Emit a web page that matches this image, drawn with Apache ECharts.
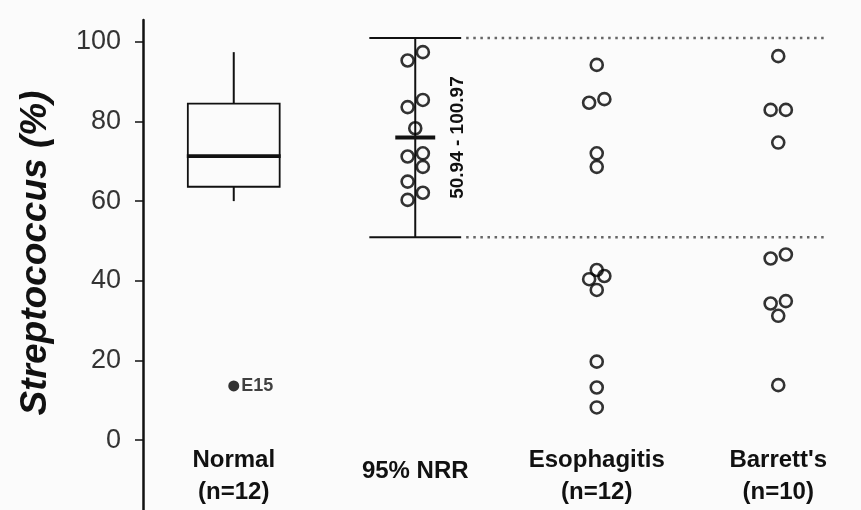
<!DOCTYPE html>
<html>
<head>
<meta charset="utf-8">
<script src="https://cdn.jsdelivr.net/npm/echarts@6/dist/echarts.min.js"></script>
<style>
  html, body { margin: 0; padding: 0; background: #fbfbfb; }
  #chart { width: 861px; height: 510px; }
</style>
</head>
<body>
<div id="chart"></div>
<script>
// Groups along the horizontal axis
const groups = ['Normal\n(n=12)', '95% NRR', 'Esophagitis\n(n=12)', "Barrett's\n(n=10)"];
const yTicks = [0, 20, 40, 60, 80, 100];

// Normal group: [lower whisker, Q1, median, Q3, upper whisker]
const normalBox = [60.0, 63.6, 71.3, 84.5, 97.4];
const normalOutlier = [13.6];
const outlierNames = ['E15'];

// 95% normal reference range and the normal values it was built from
const nrrLimits = [50.94, 100.97];
const nrrValues = [97.4, 95.3, 85.4, 83.6, 78.3, 72.0, 71.2, 68.6, 64.9, 62.1, 60.3];
const nrrSide   = [1, -1, 1, -1, 0, 1, -1, 1, -1, 1, -1];

const esophagitisValues = [94.2, 85.6, 84.7, 72.0, 68.6, 42.7, 41.2, 40.4, 37.7, 19.7, 13.2, 8.2];
const esophagitisSide   = [0, 1, -1, 0, 0, 0, 1, -1, 0, 0, 0, 0];

const barrettValues = [96.4, 82.9, 82.9, 74.7, 46.6, 45.6, 34.9, 34.3, 31.2, 13.8];
const barrettSide   = [0, -1, 1, 0, 1, -1, 1, -1, 0, 0];

const FONT = "'Liberation Sans', Arial, Helvetica, sans-serif";
const INK = '#111111';
const JITTER = 0.042; // horizontal spread of overlapping dots, in group widths

function dots(groupIndex, values, sides) {
  return values.map((v, i) => [groupIndex + sides[i] * JITTER, v]);
}

const openDot = {
  type: 'scatter',
  xAxisIndex: 1,
  symbol: 'circle',
  symbolSize: 12,
  itemStyle: { color: 'rgba(0,0,0,0)', borderColor: '#000', borderWidth: 2.6 },
  silent: true,
  z: 5
};

const chart = echarts.init(document.getElementById('chart'), null, { renderer: 'canvas' });

chart.setOption({
  backgroundColor: '#fbfbfb',
  animation: false,
  grid: { left: 143, right: -8, top: 20, bottom: 0, containLabel: false, outerBoundsMode: 'none' },
  xAxis: [
    {
      type: 'category',
      data: groups,
      position: 'bottom',
      offset: -66,
      axisLine: { show: false },
      axisTick: { show: false },
      splitLine: { show: false },
      axisLabel: {
        interval: 0,
        margin: 0,
        color: INK,
        fontFamily: FONT,
        fontWeight: 'bold',
        fontSize: 24,
        lineHeight: 32,
        formatter: (val) => val === '95% NRR' ? '{nrr|' + val + '}' : val,
        rich: {
          nrr: {
            fontFamily: FONT, fontWeight: 'bold', fontSize: 24,
            color: INK, lineHeight: 32, padding: [23, 0, 0, 0]
          }
        }
      }
    },
    {
      type: 'value',
      min: -0.5,
      max: 3.5,
      show: false
    }
  ],
  yAxis: {
    type: 'value',
    min: -17.55,
    max: 105.47,
    axisLine: { show: true, onZero: false, lineStyle: { color: INK, width: 2.5 } },
    axisTick: {
      show: true, inside: false, length: 8,
      customValues: yTicks,
      lineStyle: { color: INK, width: 1.5 }
    },
    axisLabel: {
      customValues: yTicks,
      margin: 22,
      color: '#333333',
      fontFamily: FONT,
      fontSize: 27
    },
    splitLine: { show: false }
  },
  graphic: [
    {
      type: 'text',
      x: 36,
      y: 253,
      rotation: Math.PI / 2,
      silent: true,
      style: {
        text: 'Streptococcus (%)',
        fontFamily: FONT,
        fontSize: 37,
        fontWeight: 'bold',
        fontStyle: 'italic',
        fill: INK,
        align: 'center',
        verticalAlign: 'middle'
      }
    }
  ],
  series: [
    // Box-and-whisker for the normal group
    {
      type: 'custom',
      xAxisIndex: 0,
      silent: true,
      data: [[0].concat(normalBox)],
      renderItem: function (params, api) {
        const band = api.size([1, 0])[0];
        const half = band * 0.253;
        const cx = api.coord([api.value(0), 0])[0];
        const yMin = api.coord([0, api.value(1)])[1];
        const yQ1 = api.coord([0, api.value(2)])[1];
        const yMed = api.coord([0, api.value(3)])[1];
        const yQ3 = api.coord([0, api.value(4)])[1];
        const yMax = api.coord([0, api.value(5)])[1];
        return {
          type: 'group',
          children: [
            { type: 'line', shape: { x1: cx, y1: yQ3, x2: cx, y2: yMax }, style: { stroke: INK, lineWidth: 2 } },
            { type: 'line', shape: { x1: cx, y1: yQ1, x2: cx, y2: yMin }, style: { stroke: INK, lineWidth: 2 } },
            { type: 'rect', shape: { x: cx - half, y: yQ3, width: half * 2, height: yQ1 - yQ3 }, style: { stroke: INK, lineWidth: 1.8, fill: 'rgba(0,0,0,0)' } },
            { type: 'line', shape: { x1: cx - half - 1, y1: yMed, x2: cx + half + 1, y2: yMed }, style: { stroke: INK, lineWidth: 3.8 } }
          ]
        };
      }
    },
    // Outlier of the normal group
    {
      type: 'scatter',
      xAxisIndex: 1,
      symbol: 'circle',
      symbolSize: 11,
      silent: true,
      itemStyle: { color: '#000' },
      data: normalOutlier.map((v, i) => ({ value: [0, v], name: outlierNames[i] })),
      label: {
        show: true,
        position: 'right',
        distance: 2,
        formatter: '{b}',
        color: INK,
        fontFamily: FONT,
        fontWeight: 'bold',
        fontSize: 18
      }
    },
    // 95% normal reference range with mean bar and extended limit lines
    {
      type: 'custom',
      xAxisIndex: 0,
      silent: true,
      z: 3,
      data: [[1, nrrLimits[0], nrrLimits[1]]],
      renderItem: function (params, api) {
        const band = api.size([1, 0])[0];
        const cx = api.coord([api.value(0), 0])[0];
        const lo = api.value(1);
        const hi = api.value(2);
        const mid = (lo + hi) / 2;
        const yLo = api.coord([0, lo])[1];
        const yHi = api.coord([0, hi])[1];
        const yMid = api.coord([0, mid])[1];
        const capHalf = band * 0.253;
        const meanHalf = band * 0.11;
        const dashEnd = api.coord([3, 0])[0] + band * 0.275;
        const dotted = { stroke: '#666666', lineWidth: 2.5, lineDash: [2.5, 4.6] };
        return {
          type: 'group',
          children: [
            { type: 'line', shape: { x1: cx, y1: yHi, x2: cx, y2: yLo }, style: { stroke: INK, lineWidth: 2 } },
            { type: 'line', shape: { x1: cx - capHalf, y1: yHi, x2: cx + capHalf, y2: yHi }, style: { stroke: INK, lineWidth: 2 } },
            { type: 'line', shape: { x1: cx - capHalf, y1: yLo, x2: cx + capHalf, y2: yLo }, style: { stroke: INK, lineWidth: 2 } },
            { type: 'line', shape: { x1: cx - meanHalf, y1: yMid, x2: cx + meanHalf, y2: yMid }, style: { stroke: INK, lineWidth: 4 } },
            { type: 'line', shape: { x1: cx + capHalf + 5, y1: yHi, x2: dashEnd, y2: yHi }, style: dotted },
            { type: 'line', shape: { x1: cx + capHalf + 5, y1: yLo, x2: dashEnd, y2: yLo }, style: dotted },
            {
              type: 'text',
              x: cx + band * 0.237,
              y: yMid,
              rotation: Math.PI / 2,
              style: {
                text: lo.toFixed(2) + ' - ' + hi.toFixed(2),
                fontFamily: FONT,
                fontWeight: 'bold',
                fontSize: 19,
                fill: INK,
                align: 'center',
                verticalAlign: 'middle'
              }
            }
          ]
        };
      }
    },
    Object.assign({}, openDot, { data: dots(1, nrrValues, nrrSide) }),
    Object.assign({}, openDot, { data: dots(2, esophagitisValues, esophagitisSide) }),
    Object.assign({}, openDot, { data: dots(3, barrettValues, barrettSide) })
  ]
});
</script>
</body>
</html>
